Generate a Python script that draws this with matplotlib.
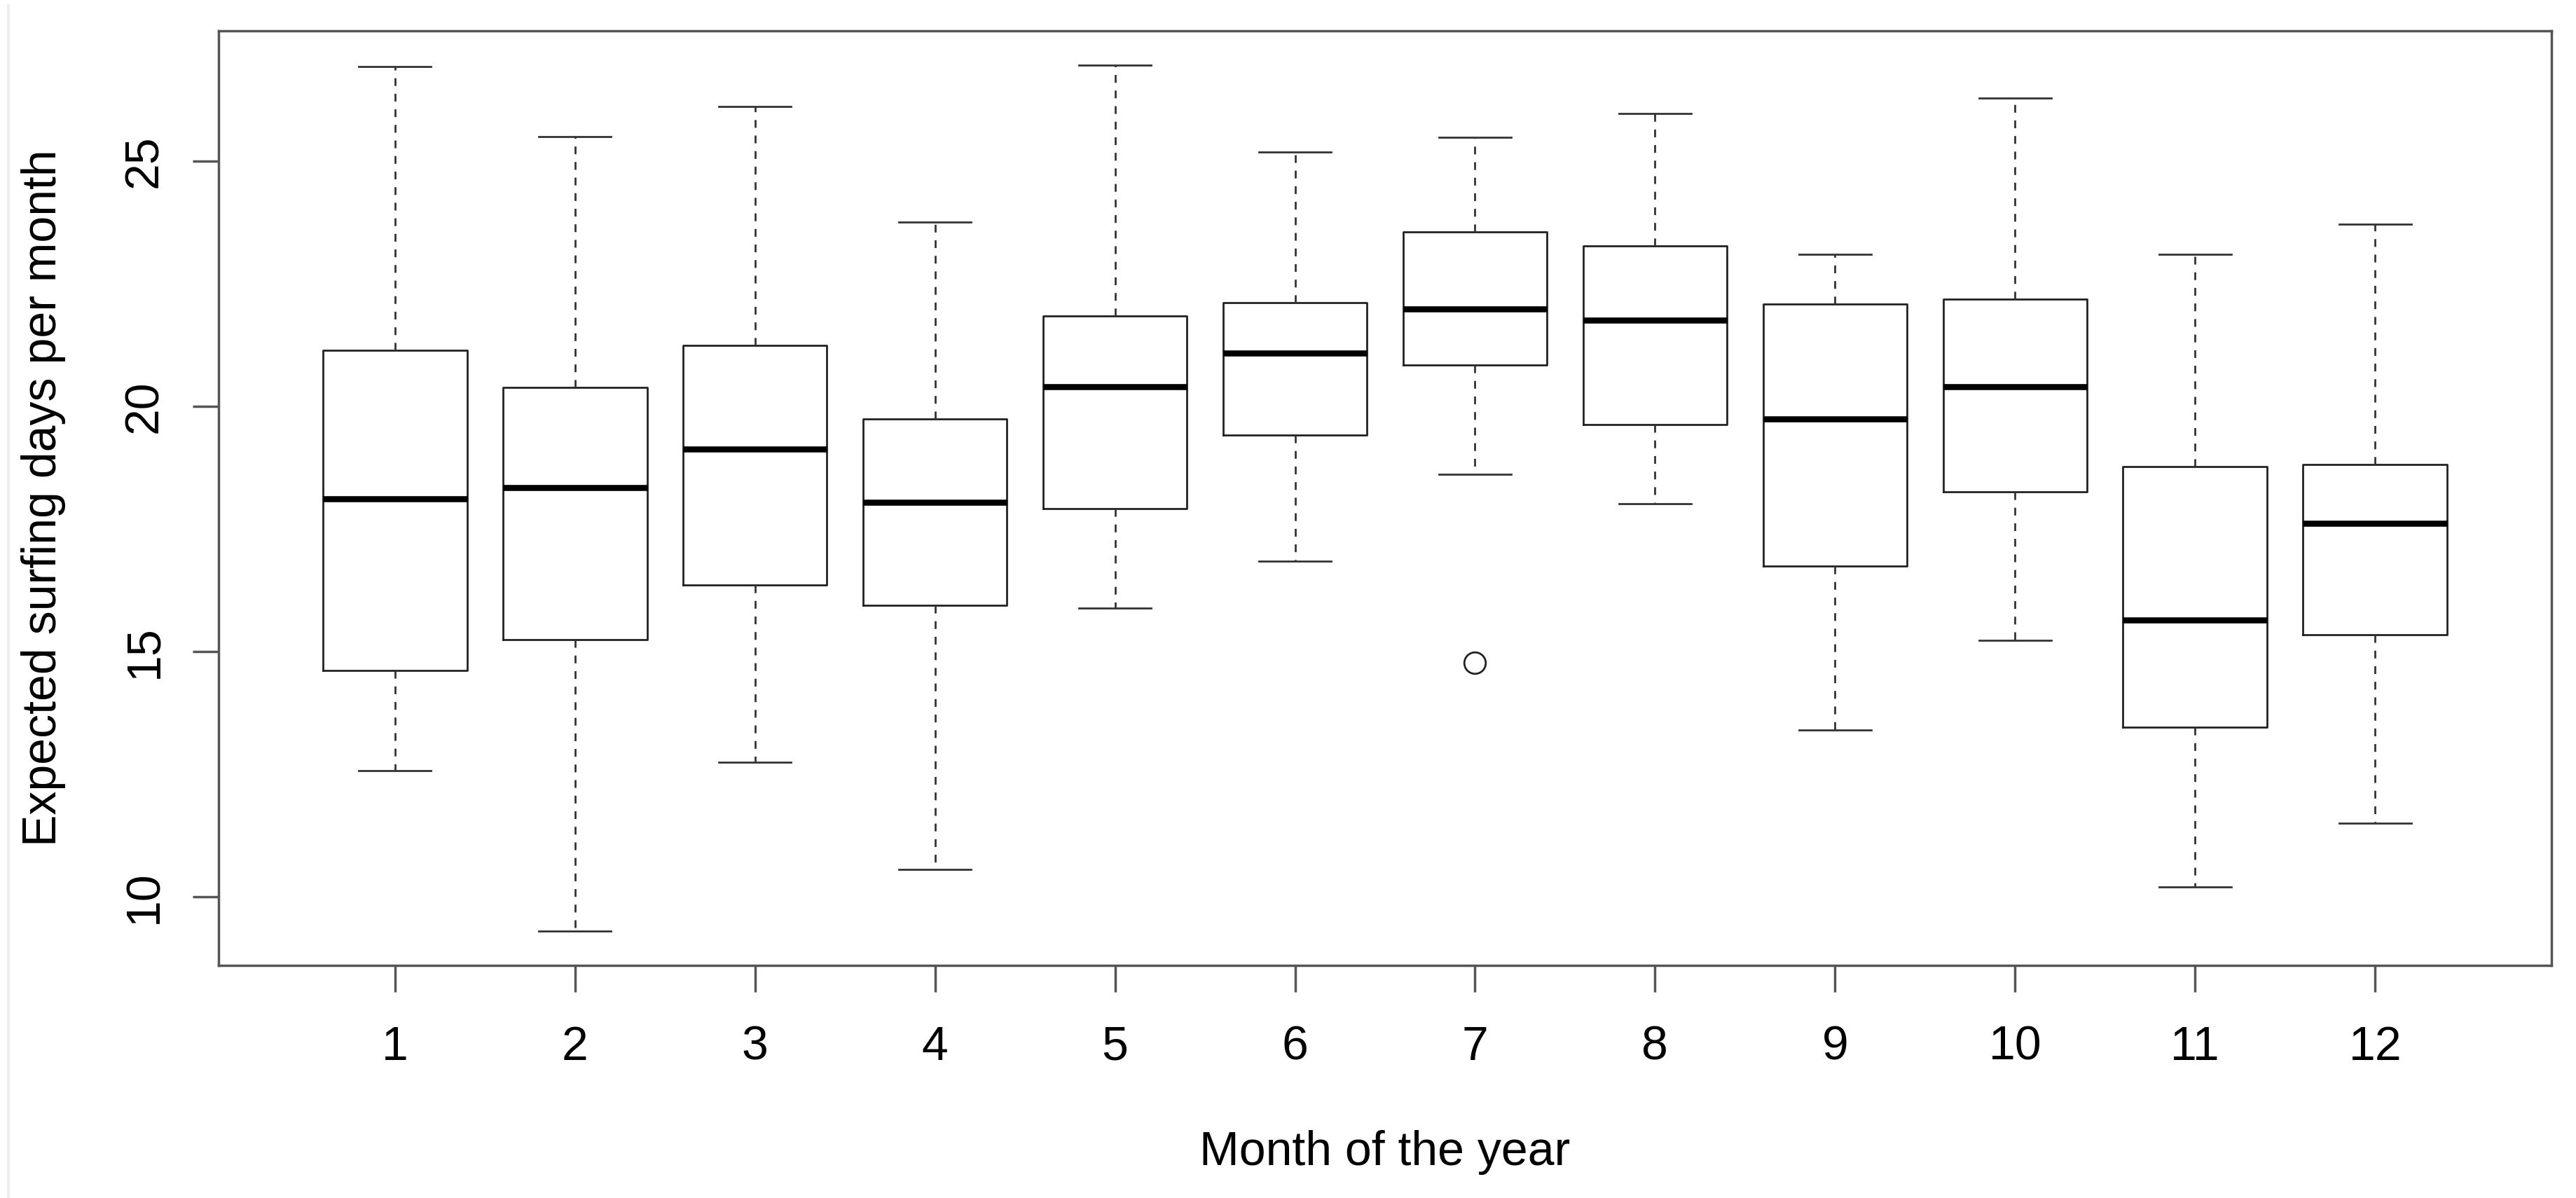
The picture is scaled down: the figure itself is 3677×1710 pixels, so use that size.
import matplotlib
matplotlib.use("Agg")
import matplotlib.pyplot as plt
from matplotlib.lines import Line2D

plt.rcParams['font.family'] = ['Liberation Sans', 'DejaVu Sans']

# Box statistics, one entry per month
months = [1, 2, 3, 4, 5, 6, 7, 8, 9, 10, 11, 12]
whisker_lo = [12.57, 9.31, 12.74, 10.56, 15.89, 16.84, 18.61, 18.02, 13.40, 15.23, 10.20, 11.51]
q1 = [14.61, 15.25, 16.36, 15.95, 17.91, 19.42, 20.84, 19.63, 16.74, 18.26, 13.46, 15.34]
medians = [18.12, 18.35, 19.13, 18.05, 20.40, 21.09, 21.99, 21.76, 19.75, 20.40, 15.64, 17.62]
q3 = [21.15, 20.39, 21.25, 19.75, 21.85, 22.12, 23.55, 23.27, 22.09, 22.18, 18.77, 18.82]
whisker_hi = [26.93, 25.50, 26.12, 23.75, 26.95, 25.19, 25.48, 25.97, 23.10, 26.28, 23.10, 23.72]
outliers = {7: [14.78]}

y_ticks = [10, 15, 20, 25]

W, H, DPI = 3677, 1710, 200
fig = plt.figure(figsize=(W / DPI, H / DPI), dpi=DPI)
ax = fig.add_axes([312 / W, 1 - 1378 / H, (3642 - 312) / W, (1378 - 44) / H])

stats = []
for i, m in enumerate(months):
    stats.append({
        'label': str(m),
        'whislo': whisker_lo[i], 'q1': q1[i], 'med': medians[i],
        'q3': q3[i], 'whishi': whisker_hi[i],
        'fliers': outliers.get(m, []),
    })

ax.bxp(stats, positions=months, widths=0.8, capwidths=0.4,
       boxprops=dict(color='#222222', linewidth=1.0),
       medianprops=dict(color='black', linewidth=3.1, solid_capstyle='butt'),
       whiskerprops=dict(color='#333333', linewidth=1.0, linestyle=(0, (4, 4))),
       capprops=dict(color='#333333', linewidth=1.0),
       flierprops=dict(marker='o', markerfacecolor='white', markeredgecolor='#222222',
                       markersize=11, markeredgewidth=1.0))

# R style 4% padding on both axes
lo, hi = min(whisker_lo + sum(outliers.values(), [])), max(whisker_hi)
pad = (hi - lo) * 0.04
ax.set_ylim(lo - pad, hi + pad)
ax.set_xlim(0.5 - 0.48, 12.5 + 0.48)

ax.set_yticks(y_ticks)
ax.set_yticklabels([str(t) for t in y_ticks], rotation=90, va='center')
ax.set_xticks(months)
ax.set_xticklabels([str(m) for m in months])

for s in ax.spines.values():
    s.set_color('#555555')
    s.set_linewidth(1.25)
ax.tick_params(length=13.5, width=1.25, color='#555555', labelsize=24.5, labelcolor='black')
ax.tick_params(axis='x', pad=17)
ax.tick_params(axis='y', pad=13)

fig.text((312 + 3642) / 2 / W, 1 - 1663 / H, 'Month of the year', ha='center', va='baseline',
         fontsize=24.5)
fig.text(62 / W, 1 - 711 / H, 'Expected surfing days per month', ha='center', va='center',
         rotation=90, fontsize=24.5)

# faint frame line at the left edge of the picture
fig.add_artist(Line2D([12 / W, 12 / W], [0, 1 - 8 / H], transform=fig.transFigure,
                      color='#eeeeee', linewidth=1.5))

fig.savefig('out.png', dpi=DPI, facecolor='white')
